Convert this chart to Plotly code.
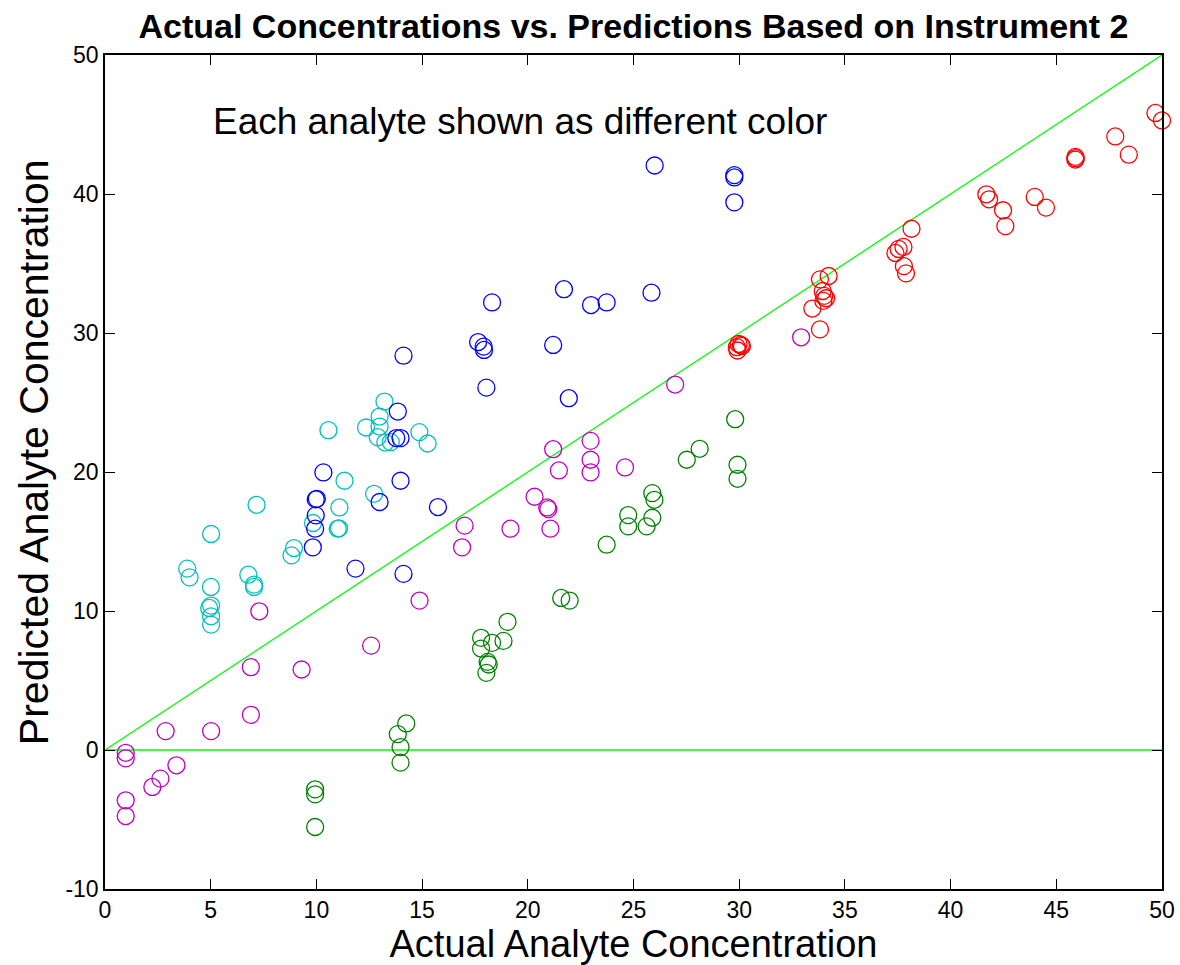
import plotly.graph_objects as go

red_x = [49.69, 50.0, 47.79, 48.43, 45.90, 45.90, 45.92, 43.98, 44.51, 41.69, 41.82, 42.48, 42.59,
         38.15, 37.77, 37.54, 37.39, 37.79, 37.89, 34.23, 33.82, 33.95, 34.02, 34.11, 33.98, 33.46,
         33.82, 29.97, 30.08, 29.89, 29.92, 30.13]
red_y = [45.83, 45.29, 44.14, 42.83, 42.67, 42.48, 42.58, 39.79, 39.02, 39.98, 39.62, 38.83, 37.69,
         37.50, 36.19, 36.05, 35.76, 34.81, 34.29, 34.10, 33.86, 33.02, 32.67, 32.50, 32.31, 31.76,
         30.26, 29.21, 29.14, 28.98, 28.74, 29.07]

blue_x = [26.0, 29.77, 29.77, 29.77, 25.85, 21.71, 18.31, 22.99, 23.73, 14.12, 17.65, 17.91, 17.93,
          21.2, 18.04, 21.94, 13.85, 13.78, 13.98, 10.33, 13.98, 10.02, 9.97, 9.97, 9.94, 9.83,
          12.99, 15.75, 11.85, 14.12]
blue_y = [42.05, 41.36, 41.19, 39.40, 32.90, 33.15, 32.2, 32.01, 32.2, 28.37, 29.35, 29.02, 28.78,
          29.14, 26.07, 25.31, 24.35, 22.44, 22.44, 19.97, 19.37, 18.07, 18.03, 16.88, 15.92, 14.58,
          17.84, 17.48, 13.05, 12.67]

cyan_x = [13.22, 12.99, 12.99, 12.35, 10.57, 12.9, 13.26, 13.52, 14.87, 15.26, 11.33, 7.17, 12.73,
          11.09, 11.01, 11.07, 9.84, 5.02, 8.94, 8.82, 3.89, 4.0, 5.01, 6.78, 7.05, 7.05, 4.93, 5.02,
          5.02, 5.02]
cyan_y = [25.07, 23.99, 23.27, 23.2, 23.01, 22.51, 22.12, 22.15, 22.87, 22.05, 19.37, 17.64, 18.43,
          17.45, 15.92, 15.95, 16.33, 15.54, 14.53, 14.0, 13.05, 12.42, 11.73, 12.61, 11.9, 11.73,
          10.22, 10.39, 9.62, 9.02]

mag_x = [32.93, 26.97, 22.97, 21.2, 22.97, 22.97, 21.47, 24.6, 20.32, 20.92, 20.97, 17.01, 19.18,
         21.07, 16.89, 14.88, 12.59, 7.3, 6.9, 9.3, 6.9, 2.87, 5.02, 0.98, 0.98, 3.38, 2.62, 2.24,
         0.98, 0.98]
mag_y = [29.69, 26.29, 22.24, 21.64, 20.88, 19.97, 20.11, 20.33, 18.22, 17.45, 17.33, 16.14, 15.92,
         15.92, 14.58, 10.75, 7.51, 9.98, 5.96, 5.79, 2.53, 1.36, 1.36, -0.2, -0.6, -1.1, -2.06, -2.66,
         -3.62, -4.75]

green_x = [29.81, 28.13, 27.52, 29.92, 29.92, 25.89, 25.99, 24.75, 25.89, 24.75, 25.62, 23.73, 21.58,
           21.98, 19.04, 18.85, 17.79, 18.31, 17.79, 18.1, 18.15, 18.04, 14.25, 13.85, 13.98, 13.98,
           9.94, 9.94, 9.94]
green_y = [23.8, 21.67, 20.88, 20.52, 19.51, 18.48, 18.0, 16.9, 16.71, 16.09, 16.09, 14.77, 10.94,
           10.75, 9.22, 7.85, 8.07, 7.71, 7.3, 6.34, 6.15, 5.55, 1.91, 1.14, 0.21, -0.91, -2.83, -3.19,
           -5.54]

line_x = [0, 50]
diag_y = [0, 50]
zero_y = [0, 0]

tick_vals_x = [0, 5, 10, 15, 20, 25, 30, 35, 40, 45, 50]
tick_vals_y = [-10, 0, 10, 20, 30, 40, 50]

FONT = "Liberation Sans, Arial, Helvetica, sans-serif"

fig = go.Figure()
fig.add_trace(go.Scatter(x=line_x, y=diag_y, mode="lines", line=dict(color="#00FF00", width=1.3),
                         hoverinfo="skip"))
fig.add_trace(go.Scatter(x=line_x, y=zero_y, mode="lines", line=dict(color="#00FF00", width=1.3),
                         hoverinfo="skip"))

series = [
    (cyan_x, cyan_y, "#00BFBF"),
    (blue_x, blue_y, "#0000FF"),
    (mag_x, mag_y, "#BF00BF"),
    (green_x, green_y, "#008000"),
    (red_x, red_y, "#FF0000"),
]
for xs, ys, col in series:
    fig.add_trace(go.Scatter(x=xs, y=ys, mode="markers", cliponaxis=False,
                             marker=dict(symbol="circle-open", size=17, color=col,
                                         line=dict(color=col, width=1.3))))

fig.add_annotation(x=5.0, y=45.25, xref="x", yref="y", text="Each analyte shown as different color",
                   showarrow=False, xanchor="left", yanchor="middle",
                   font=dict(family=FONT, size=37, color="black"))

# y-axis label (placed like the original, slightly above the plot centre)
fig.add_annotation(x=-0.067, y=0.524, xref="paper", yref="paper",
                   text="Predicted Analyte Concentration", textangle=-90,
                   showarrow=False, xanchor="center", yanchor="middle",
                   font=dict(family=FONT, size=41, color="black"))

axis_common = dict(showgrid=False, zeroline=False, showline=True, linecolor="black", linewidth=1.5,
                   mirror="ticks", ticks="inside", ticklen=10, tickwidth=1, tickcolor="black",
                   automargin=False,
                   tickfont=dict(family=FONT, size=23, color="black"))

fig.update_layout(
    width=1180, height=965,
    margin=dict(l=105, r=18, t=55, b=76),
    paper_bgcolor="white", plot_bgcolor="white",
    showlegend=False,
    title=dict(text="<b>Actual Concentrations vs. Predictions Based on Instrument 2</b>",
               x=0.5, xref="paper", y=0.973, yanchor="middle",
               font=dict(family=FONT, size=34, color="black")),
    xaxis=dict(range=[0, 50], tickvals=tick_vals_x, ticktext=[str(v) for v in tick_vals_x],
               title=dict(text="Actual Analyte Concentration", standoff=2,
                          font=dict(family=FONT, size=38, color="black")),
               **axis_common),
    yaxis=dict(range=[-10, 50], tickvals=tick_vals_y, ticktext=[str(v) for v in tick_vals_y],
               **axis_common),
)

fig.write_html("out.html")
